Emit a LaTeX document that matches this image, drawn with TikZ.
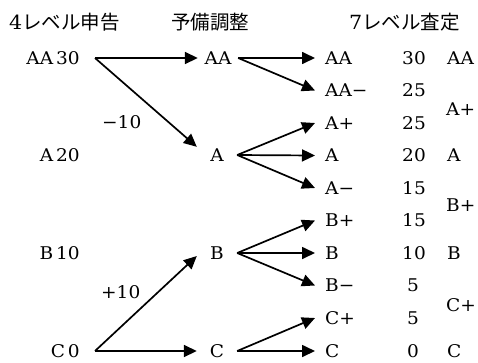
\documentclass[tikz,border=0pt]{standalone}
\usepackage{fontspec}
\setmainfont[FakeStretch=1.06]{DejaVu Serif}
\newfontfamily\jpfont{Noto Sans CJK JP}
\usetikzlibrary{arrows.meta}
\begin{document}
\begin{tikzpicture}[x=1pt,y=-1pt,
  lbl/.style={font=\fontsize{17.5}{20}\selectfont, inner sep=0pt, text height=12.5pt, text depth=0pt},
  hdr/.style={font=\fontsize{19.5}{22}\selectfont, inner sep=0pt, anchor=base west},
  mid/.style={lbl, minimum width=40pt, minimum height=16pt},
  rgt/.style={lbl, anchor=west, inner xsep=10pt},
  num/.style={lbl},
  fin/.style={lbl, anchor=west},
  arr/.style={line width=1.7pt, -{Triangle[length=13pt,width=12pt]}}
]
\useasboundingbox (0,0) rectangle (478,362);
% headers
\node[hdr] (h1) at (9,29) {4\jpfont レベル申告};
\node[hdr] (h2) at (171,29) {\jpfont 予備調整};
\node[hdr] (h3) at (349,29) {7\jpfont レベル査定};
% left column
\node[lbl, anchor=east, inner xsep=15pt] (l30) at (95,58) {AA\,30};
\node[lbl, anchor=east] (l20) at (80,155) {A\,20};
\node[lbl, anchor=east] (l10) at (80,253) {B\,10};
\node[lbl, anchor=east, inner xsep=15pt] (l0) at (95,351) {C\,0};
% middle column
\node[mid] (mAA) at (218,58) {AA};
\node[mid] (mA) at (217,155) {A};
\node[mid] (mB) at (217,253) {B};
\node[mid] (mC) at (217,351) {C};
% 7-level column
\node[rgt] (rAA) at (315,58) {AA};
\node[rgt] (rAAm) at (315,90.5) {AA−};
\node[rgt] (rAp) at (315,123) {A+};
\node[rgt] (rA) at (315,155.5) {A};
\node[rgt] (rAm) at (315,188) {A−};
\node[rgt] (rBp) at (315,220.5) {B+};
\node[rgt] (rB) at (315,253) {B};
\node[rgt] (rBm) at (315,285.5) {B−};
\node[rgt] (rCp) at (315,318) {C+};
\node[rgt] (rC) at (315,351) {C};
% numbers
\node[num] (n1) at (414,58) {30};
\node[num] (n2) at (414,90.5) {25};
\node[num] (n3) at (414,123) {25};
\node[num] (n4) at (414,155.5) {20};
\node[num] (n5) at (414,188) {15};
\node[num] (n6) at (414,220.5) {15};
\node[num] (n7) at (414,253) {10};
\node[num] (n8) at (413,285.5) {5};
\node[num] (n9) at (413,318) {5};
\node[num] (n10) at (413,351) {0};
% final column
\node[fin] (fAA) at (447,58) {AA};
\node[fin] (fAp) at (446,109) {A+};
\node[fin] (fA) at (447,155.5) {A};
\node[fin] (fBp) at (446,205) {B+};
\node[fin] (fB) at (447,253) {B};
\node[fin] (fCp) at (446,305) {C+};
\node[fin] (fC) at (447,351) {C};
% adjustment labels
\node[lbl, anchor=west] (dm) at (102,122) {−10};
\node[lbl, anchor=west] (dp) at (101,292) {+10};
% arrows left -> middle
\draw[arr] (l30.east) -- (mAA.west);
\draw[arr] (l30.east) -- (mA.north west);
\draw[arr] (l0.east) -- ([yshift=-3pt]mB.west);
\draw[arr] (l0.east) -- (mC.west);
% arrows middle -> right
\draw[arr] (mAA.east) -- (rAA.west);
\draw[arr] (mAA.east) -- (rAAm.west);
\draw[arr] (mA.east) -- (rAp.west);
\draw[arr] (mA.east) -- (rA.west);
\draw[arr] (mA.east) -- (rAm.west);
\draw[arr] (mB.east) -- (rBp.west);
\draw[arr] (mB.east) -- (rB.west);
\draw[arr] (mB.east) -- (rBm.west);
\draw[arr] (mC.east) -- (rCp.west);
\draw[arr] (mC.east) -- (rC.west);
\end{tikzpicture}
\end{document}
